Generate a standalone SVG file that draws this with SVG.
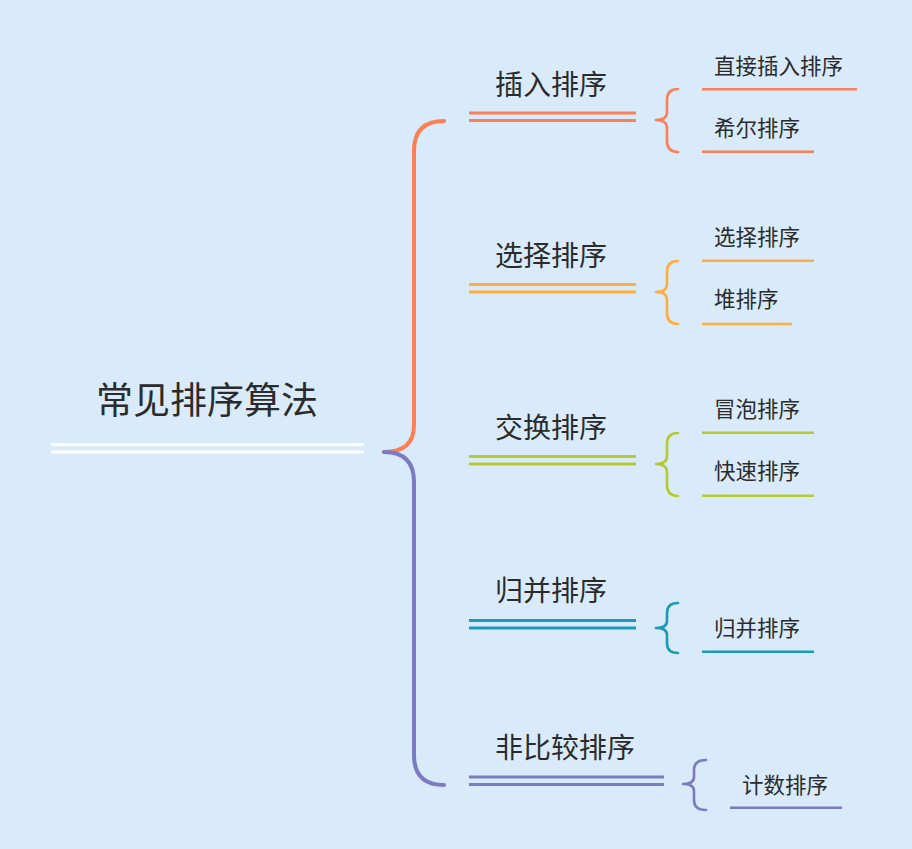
<svg xmlns="http://www.w3.org/2000/svg" width="912" height="849" viewBox="0 0 912 849">
<style>
text{font-family:"Noto Sans CJK SC","Microsoft YaHei",sans-serif;fill:#2b2b2b}
.root{font-size:37px}
.l1{font-size:28px}
.l2{font-size:21.5px}
.br{fill:none;stroke-linecap:round;stroke-linejoin:round}
.main{stroke-width:4}
.sub{stroke-width:2.6}
.dl{stroke-width:3.2}
.sl{stroke-width:2.6}
.c1{stroke:#fb8058}.c2{stroke:#ffad3b}.c3{stroke:#b6c931}.c4{stroke:#1a9ab6}.c5{stroke:#7b7bc3}.cw{stroke:#ffffff}
</style>
<rect width="912" height="849" fill="#d9ebfb"/>
<g id="connectors">
<path class="br main c1" d="M444,121 Q414,121 414,151 L414,425 Q414,452 384,452"/>
<path class="br main c5" d="M384,452 Q414,452 414,482 L414,755 Q414,785 444,785"/>
<path class="br sub c1" d="M678,89 Q667,89 667,100 L667,112 Q667,120 656,120 Q667,120 667,128 L667,141 Q667,152 678,152"/>
<path class="br sub c2" d="M678,261 Q667,261 667,272 L667,284 Q667,292 656,292 Q667,292 667,300 L667,313 Q667,324 678,324"/>
<path class="br sub c3" d="M678,433 Q667,433 667,444 L667,456 Q667,464 656,464 Q667,464 667,472 L667,485 Q667,496 678,496"/>
<path class="br sub c4" d="M678,603 Q667,603 667,613 L667,621 Q667,628 656,628 Q667,628 667,635 L667,643 Q667,653 678,653"/>
<path class="br sub c5" d="M706,760 Q694,760 694,770 L694,777 Q694,784 683,784 Q694,784 694,791 L694,800 Q694,810 706,810"/>
</g>
<g id="root">
<line class="dl cw" x1="51" y1="444.5" x2="364" y2="444.5"/>
<line class="dl cw" x1="51" y1="452" x2="364" y2="452"/>
<text class="root" x="96" y="414">常见排序算法</text>
</g>
<g id="n-insert">
<line class="dl c1" x1="469" y1="113" x2="636" y2="113"/>
<line class="dl c1" x1="469" y1="120.5" x2="636" y2="120.5"/>
<text class="l1" x="495" y="95">插入排序</text>
</g>
<g id="n-select">
<line class="dl c2" x1="469" y1="284.5" x2="636" y2="284.5"/>
<line class="dl c2" x1="469" y1="292" x2="636" y2="292"/>
<text class="l1" x="495" y="266">选择排序</text>
</g>
<g id="n-swap">
<line class="dl c3" x1="469" y1="456.5" x2="636" y2="456.5"/>
<line class="dl c3" x1="469" y1="464" x2="636" y2="464"/>
<text class="l1" x="495" y="438">交换排序</text>
</g>
<g id="n-merge">
<line class="dl c4" x1="469" y1="620.5" x2="636" y2="620.5"/>
<line class="dl c4" x1="469" y1="628" x2="636" y2="628"/>
<text class="l1" x="495" y="601">归并排序</text>
</g>
<g id="n-noncmp">
<line class="dl c5" x1="469" y1="777" x2="664" y2="777"/>
<line class="dl c5" x1="469" y1="784.5" x2="664" y2="784.5"/>
<text class="l1" x="495" y="758">非比较排序</text>
</g>
<g id="n-direct">
<line class="sl c1" x1="702" y1="89.3" x2="857" y2="89.3"/>
<text class="l2" x="714" y="74">直接插入排序</text>
</g>
<g id="n-shell">
<line class="sl c1" x1="702" y1="151.7" x2="814" y2="151.7"/>
<text class="l2" x="714" y="136">希尔排序</text>
</g>
<g id="n-selection">
<line class="sl c2" x1="702" y1="260.7" x2="814" y2="260.7"/>
<text class="l2" x="714" y="245">选择排序</text>
</g>
<g id="n-heap">
<line class="sl c2" x1="702" y1="324" x2="792" y2="324"/>
<text class="l2" x="714" y="307">堆排序</text>
</g>
<g id="n-bubble">
<line class="sl c3" x1="702" y1="432.7" x2="814" y2="432.7"/>
<text class="l2" x="714" y="417">冒泡排序</text>
</g>
<g id="n-quick">
<line class="sl c3" x1="702" y1="495.7" x2="814" y2="495.7"/>
<text class="l2" x="714" y="479">快速排序</text>
</g>
<g id="n-mergesort">
<line class="sl c4" x1="702" y1="651.7" x2="814" y2="651.7"/>
<text class="l2" x="714" y="636">归并排序</text>
</g>
<g id="n-count">
<line class="sl c5" x1="730" y1="807.7" x2="842" y2="807.7"/>
<text class="l2" x="742" y="793">计数排序</text>
</g>
</svg>
